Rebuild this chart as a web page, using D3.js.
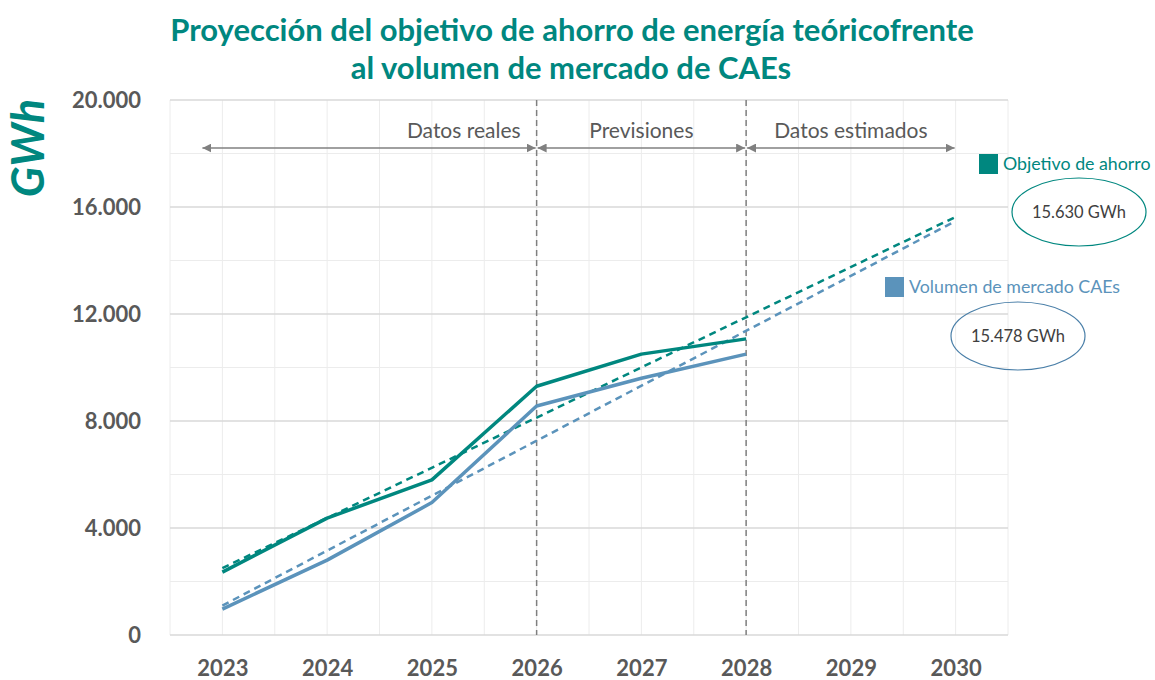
<!DOCTYPE html>
<html>
<head>
<meta charset="utf-8">
<script src="https://cdn.jsdelivr.net/npm/d3@7"></script>
<style>
  body { margin: 0; background: #fff; }
  svg { display: block; font-family: Lato, "Open Sans", sans-serif; }
</style>
</head>
<body>
<svg id="chart" width="1155" height="680"></svg>
<script>
// data
var years = [2023, 2024, 2025, 2026, 2027, 2028];
var objetivo = [2350, 4370, 5800, 9300, 10500, 11070];
var volumen = [970, 2800, 4950, 8560, 9600, 10500];
// straight projection lines, start and end
var trendYears = [2023, 2030];
var trendObjetivo = [2500, 15630];
var trendVolumen = [1100, 15478];
var xTicks = [2023, 2024, 2025, 2026, 2027, 2028, 2029, 2030];
var yTicks = [0, 4000, 8000, 12000, 16000, 20000];
var phaseLabels = ["Datos reales", "Previsiones", "Datos estimados"];
var phaseFrom = [2022.8, 2026, 2028];
var phaseTo = [2026, 2028, 2030];
var dividers = [2026, 2028];

var teal = "#00877f", blue = "#5b93bb", grey = "#595959";

var svg = d3.select("#chart");
// plot box (note: "top" is taken by window.top)
var pl = 170, pr = 1008, pt = 100, pb = 635;

var x = d3.scaleLinear().domain([2022.5, 2030.5]).range([pl, pr]);
var y = d3.scaleLinear().domain([0, 20000]).range([pb, pt]);
var fmt = d => d3.format(",")(d).replace(/,/g, ".");

// gridlines, minor then major
var grid = svg.append("g");
grid.selectAll(".vminor")
  .data(d3.range(2022.5, 2030.51, 0.5))
  .enter().append("line")
  .attr("x1", d => x(d)).attr("x2", d => x(d))
  .attr("y1", pt).attr("y2", pb)
  .attr("stroke", "#ececec").attr("stroke-width", 1);
grid.selectAll(".hminor")
  .data(d3.range(2000, 20000, 4000))
  .enter().append("line")
  .attr("x1", pl).attr("x2", pr)
  .attr("y1", d => y(d)).attr("y2", d => y(d))
  .attr("stroke", "#ececec").attr("stroke-width", 1);
grid.selectAll(".hmajor")
  .data(yTicks)
  .enter().append("line")
  .attr("x1", pl).attr("x2", pr)
  .attr("y1", d => y(d)).attr("y2", d => y(d))
  .attr("stroke", "#d9d9d9").attr("stroke-width", 1.5);

// axes, labels only
var yAxis = svg.append("g")
  .attr("transform", "translate(" + (pl - 26) + ",0)")
  .call(d3.axisLeft(y).tickValues(yTicks).tickSize(0).tickFormat(fmt));
var xAxis = svg.append("g")
  .attr("transform", "translate(0," + (pb + 22) + ")")
  .call(d3.axisBottom(x).tickValues(xTicks).tickSize(0).tickFormat(d3.format("d")));
[yAxis, xAxis].forEach(function (a) {
  a.select(".domain").remove();
  a.selectAll("text")
    .style("font-family", "Lato, sans-serif")
    .style("font-size", "22px")
    .style("font-weight", "bold")
    .attr("fill", grey);
});
yAxis.selectAll("text").attr("dy", "0.35em");

// phase dividers
svg.selectAll(".divider")
  .data(dividers)
  .enter().append("line")
  .attr("x1", d => x(d)).attr("x2", d => x(d))
  .attr("y1", pt).attr("y2", pb)
  .attr("stroke", "#7f7f7f").attr("stroke-width", 1.5)
  .attr("stroke-dasharray", "6,4");

// arrowheads
var defs = svg.append("defs");
defs.append("marker")
  .attr("id", "arr").attr("viewBox", "0 0 10 10")
  .attr("refX", 10).attr("refY", 5)
  .attr("markerWidth", 9).attr("markerHeight", 9)
  .attr("markerUnits", "userSpaceOnUse")
  .attr("orient", "auto-start-reverse")
  .append("path").attr("d", "M0,0L10,5L0,10Z").attr("fill", "#808080");

var arrowY = 148;
var ph = svg.selectAll(".phase").data(phaseLabels).enter().append("g");
ph.append("line")
  .attr("x1", (d, i) => x(phaseFrom[i]) + 1).attr("x2", (d, i) => x(phaseTo[i]) - 1)
  .attr("y1", arrowY).attr("y2", arrowY)
  .attr("stroke", "#808080").attr("stroke-width", 1.6)
  .attr("marker-start", "url(#arr)").attr("marker-end", "url(#arr)");
ph.append("text")
  .attr("x", (d, i) => i === 0 ? x(phaseTo[i]) - 16 : (x(phaseFrom[i]) + x(phaseTo[i])) / 2)
  .attr("y", 138)
  .attr("text-anchor", (d, i) => i === 0 ? "end" : "middle")
  .style("font-size", "21px")
  .attr("fill", grey)
  .text(d => d);

// projection lines
var line = d3.line().x(d => x(d[0])).y(d => y(d[1]));
svg.append("path")
  .datum(d3.zip(trendYears, trendVolumen))
  .attr("d", line).attr("fill", "none")
  .attr("stroke", blue).attr("stroke-width", 2.5)
  .attr("stroke-dasharray", "7,5");
svg.append("path")
  .datum(d3.zip(trendYears, trendObjetivo))
  .attr("d", line).attr("fill", "none")
  .attr("stroke", teal).attr("stroke-width", 2.5)
  .attr("stroke-dasharray", "7,5");

// actual series
svg.append("path")
  .datum(d3.zip(years, volumen))
  .attr("d", line).attr("fill", "none")
  .attr("stroke", blue).attr("stroke-width", 3.5)
  .attr("stroke-linejoin", "round");
svg.append("path")
  .datum(d3.zip(years, objetivo))
  .attr("d", line).attr("fill", "none")
  .attr("stroke", teal).attr("stroke-width", 3.5)
  .attr("stroke-linejoin", "round");

// legend
var legNames = ["Objetivo de ahorro", "Volumen de mercado CAEs"];
var legColors = [teal, blue];
var legPos = [[979, 154], [885, 277]];
var lg = svg.selectAll(".leg").data(legNames).enter().append("g");
lg.append("rect")
  .attr("x", (d, i) => legPos[i][0]).attr("y", (d, i) => legPos[i][1])
  .attr("width", 19).attr("height", 20)
  .attr("fill", (d, i) => legColors[i]);
lg.append("text")
  .attr("x", (d, i) => legPos[i][0] + 24).attr("y", (d, i) => legPos[i][1] + 16)
  .style("font-size", "17.8px")
  .attr("fill", (d, i) => legColors[i])
  .text(d => d);

// end value bubbles
var endValues = [trendObjetivo[1], trendVolumen[1]];
var bubColors = [teal, "#4a7fa8"];
var bubPos = [[1079, 212], [1018, 336]];
var bb = svg.selectAll(".bub").data(endValues).enter().append("g");
bb.append("ellipse")
  .attr("cx", (d, i) => bubPos[i][0]).attr("cy", (d, i) => bubPos[i][1])
  .attr("rx", 67).attr("ry", 34)
  .attr("fill", "none").attr("stroke", (d, i) => bubColors[i]).attr("stroke-width", 1.2);
bb.append("text")
  .attr("x", (d, i) => bubPos[i][0]).attr("y", (d, i) => bubPos[i][1] + 6)
  .attr("text-anchor", "middle")
  .style("font-size", "16.5px")
  .attr("fill", "#404040")
  .text(d => fmt(d) + " GWh");

// y unit
svg.append("text")
  .attr("transform", "translate(44,148) rotate(-90)")
  .attr("text-anchor", "middle")
  .style("font-size", "45px")
  .style("font-weight", "bold")
  .style("font-style", "italic")
  .attr("fill", teal)
  .text("GWh");

// title
var title = svg.append("text")
  .attr("text-anchor", "middle")
  .style("font-size", "31px")
  .style("font-weight", "bold")
  .attr("fill", teal);
title.append("tspan").attr("x", 572).attr("y", 41)
  .text("Proyección del objetivo de ahorro de energía teóricofrente");
title.append("tspan").attr("x", 571).attr("y", 79)
  .text("al volumen de mercado de CAEs");
</script>
</body>
</html>
